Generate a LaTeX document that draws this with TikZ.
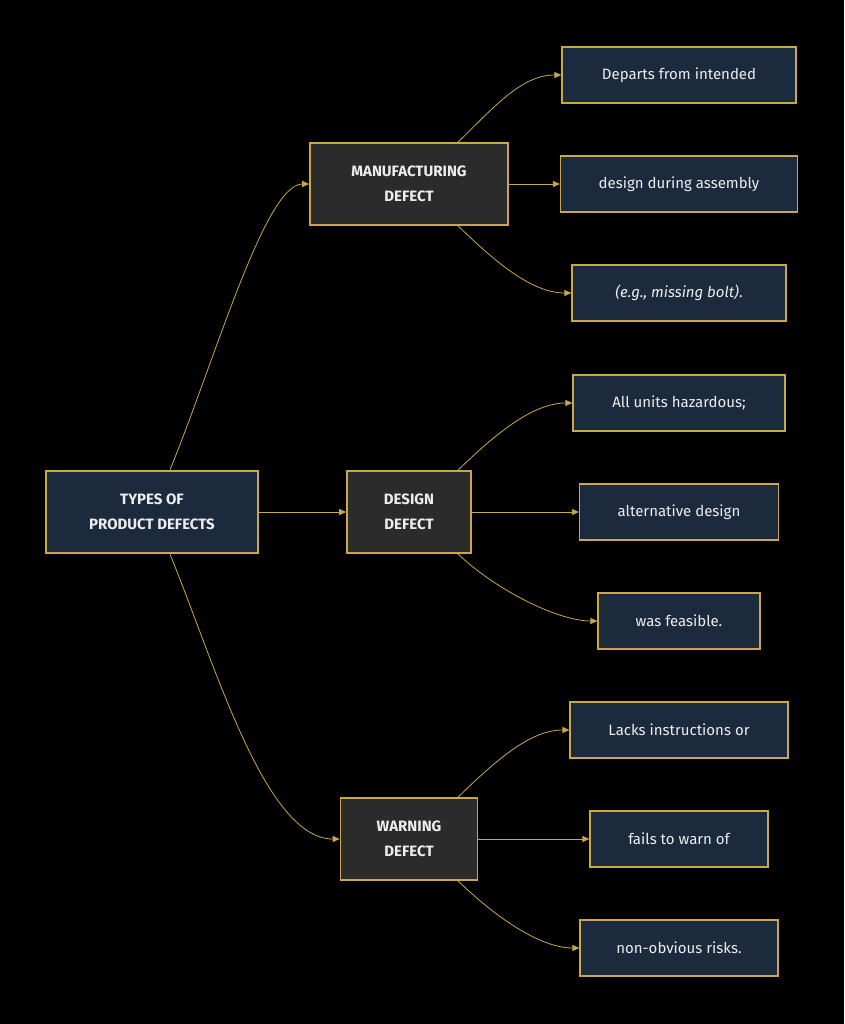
\documentclass[tikz,border=0pt]{standalone}
\usepackage{fontspec}
\setmainfont{Fira Sans}
\usetikzlibrary{calc,arrows.meta}
\definecolor{gold}{HTML}{C9A84C}
\definecolor{navy}{HTML}{1C2A3E}
\definecolor{dgray}{HTML}{2B2B2B}
\definecolor{txt}{HTML}{EDEDED}
\begin{document}
\begin{tikzpicture}[x=1pt,y=-1pt,
  base/.style={draw=gold,text=txt,align=center,inner sep=0pt,font=\fontsize{15}{25}\selectfont},
  root/.style={base,fill=navy,line width=2.5pt,font=\bfseries\fontsize{15}{25}\selectfont},
  cat/.style={base,fill=dgray,line width=1.6pt,font=\bfseries\fontsize{15}{25}\selectfont},
  leaf/.style={base,fill=navy,line width=1.2pt},
  edge/.style={draw=gold,line width=0.8pt,-{Triangle[length=7pt,width=6pt]}}]
\fill[black] (0,0) rectangle (844,1024);
\useasboundingbox (0,0) rectangle (844,1024);
\node[root,minimum width=212pt,minimum height=82pt] (root) at (152,512) {TYPES OF\\PRODUCT DEFECTS};
\node[cat,minimum width=198pt,minimum height=82pt] (man) at (409,184) {MANUFACTURING\\DEFECT};
\node[cat,minimum width=124pt,minimum height=82pt] (des) at (409,512) {DESIGN\\DEFECT};
\node[cat,minimum width=137pt,minimum height=82pt] (war) at (409,839) {WARNING\\DEFECT};
\node[leaf,minimum width=234pt,minimum height=56pt] (l1) at (679,75) {Departs from intended};
\node[leaf,minimum width=237pt,minimum height=56pt] (l2) at (679,184) {design during assembly};
\node[leaf,minimum width=214pt,minimum height=56pt] (l3) at (679,293) {\textit{(e.g., missing bolt)}.};
\node[leaf,minimum width=212pt,minimum height=56pt] (l4) at (679,403) {All units hazardous;};
\node[leaf,minimum width=199pt,minimum height=56pt] (l5) at (679,512) {alternative design};
\node[leaf,minimum width=162pt,minimum height=56pt] (l6) at (679,621) {was feasible.};
\node[leaf,minimum width=218pt,minimum height=56pt] (l7) at (679,730) {Lacks instructions or};
\node[leaf,minimum width=178pt,minimum height=56pt] (l8) at (679,839) {fails to warn of};
\node[leaf,minimum width=198pt,minimum height=56pt] (l9) at (679,948) {non-obvious risks.};
\draw[edge] ($(root.north)+(18,0)$) .. controls (215,360) and (265,184) .. (man.west);
\draw[edge] (root) -- (des);
\draw[edge] ($(root.south)+(18,0)$) .. controls (215,664) and (265,839) .. (war.west);
\foreach \p/\a/\b/\c in {man/l1/l2/l3,des/l4/l5/l6,war/l7/l8/l9}{
  \draw[edge] ($(\p.north)+(49,0)$) .. controls ($(\p.north)+(85,-35)$) and ($(\a.west)+(-40,0)$) .. (\a.west);
  \draw[edge] (\p.east) -- (\b.west);
  \draw[edge] ($(\p.south)+(49,0)$) .. controls ($(\p.south)+(85,35)$) and ($(\c.west)+(-40,0)$) .. (\c.west);
}
\end{tikzpicture}
\end{document}
